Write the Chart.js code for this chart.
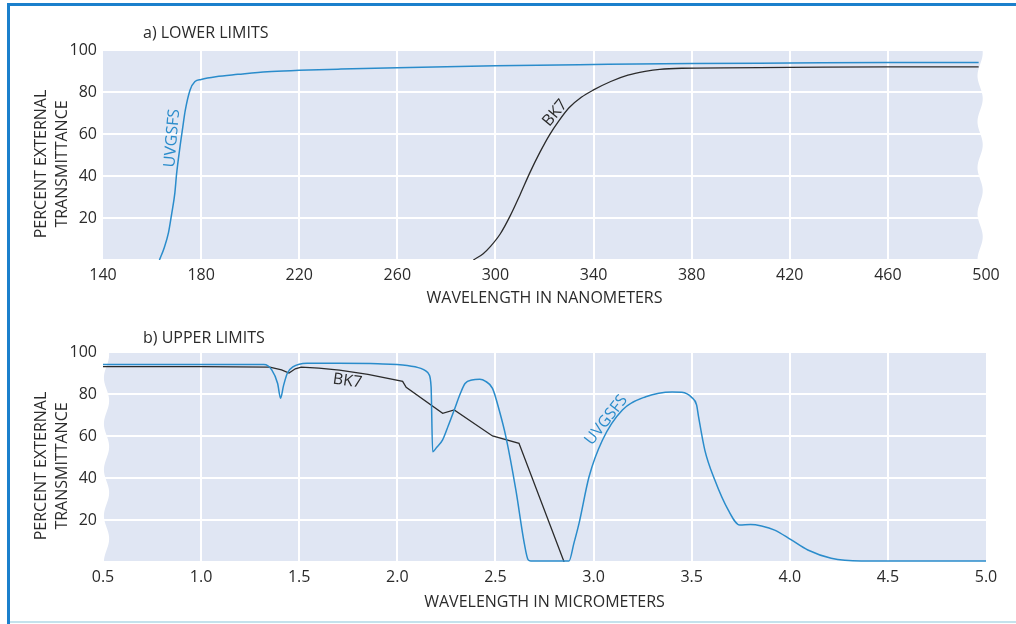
<!DOCTYPE html>
<html>
<head>
<meta charset="utf-8">
<script src="https://cdn.jsdelivr.net/npm/chart.js@4.4.1/dist/chart.umd.min.js"></script>
<style>
  html, body { margin: 0; padding: 0; background: #fff; }
  #fig { position: relative; width: 1016px; height: 624px; overflow: hidden; }
  #fig canvas { position: absolute; left: 0; }
  #chartA { top: 0; }
  #chartB { top: 312px; }
  .frame { position: absolute; left: 7px; top: 3px; width: 1030px; height: 660px;
           border-top: 3px solid #1b80cc; border-left: 3px solid #1b80cc; }
  .base { position: absolute; left: 10px; right: 0; top: 621px; height: 2px; background: #c4e2ec; }
</style>
</head>
<body>
<div id="fig">
  <canvas id="chartA" width="1016" height="312"></canvas>
  <canvas id="chartB" width="1016" height="312"></canvas>
  <div class="frame"></div>
  <div class="base"></div>
</div>
<script>
// ===========================
// Data
// ===========================

// a) lower limits, wavelength in nm
const uvgsfsWlA = [163, 165, 166.7, 168, 169.3, 170, 171.4, 172.5, 173.5, 175.5, 177.5, 180, 186, 195, 207, 220, 237, 260, 300, 340, 380, 420, 460, 497];
const uvgsfsTA  = [0, 6, 13, 22, 32, 41, 54, 63, 71, 81, 85, 86, 87.3, 88.4, 89.7, 90.3, 90.9, 91.6, 92.5, 93.1, 93.6, 93.8, 94, 94];
const bk7WlA = [291, 295, 298, 302, 306, 310, 314, 318, 322, 326, 330, 335, 340, 347, 354, 361, 367, 376, 420, 460, 497];
const bk7TA  = [0, 3, 6.5, 12.5, 21, 31, 41.5, 51, 59.5, 66.5, 72.5, 77.5, 81, 85, 88, 89.8, 90.8, 91.3, 91.7, 92, 92];

// b) upper limits, wavelength in micrometers
const uvgsfsWlB = [0.5, 1.0, 1.32, 1.36, 1.39, 1.405, 1.42, 1.44, 1.47, 1.5, 1.54, 1.7, 1.9, 2.05, 2.12, 2.145, 2.16, 2.172, 2.18,
                   2.2, 2.23, 2.26, 2.29, 2.32, 2.345, 2.38, 2.42, 2.45, 2.485, 2.52, 2.553, 2.604, 2.647, 2.667, 2.68, 2.875,
                   2.9, 2.926, 2.977, 3.045, 3.147, 3.266, 3.4, 3.45, 3.5, 3.525, 3.535, 3.567, 3.618, 3.686, 3.745, 3.8,
                   3.856, 3.923, 4.008, 4.092, 4.211, 4.364, 5.0];
const uvgsfsTB  = [94, 94, 94, 91.5, 85, 78, 84, 90, 93, 94.2, 94.6, 94.6, 94.4, 93.6, 92.2, 91, 89.5, 83.5, 52.5,
                   54.5, 58, 65, 72.4, 80, 85, 86.7, 87, 86, 82.7, 72, 59.7, 34.3, 8.9, 1, 0.5, 0.5,
                   9, 18.4, 40.6, 58, 72.4, 78.7, 81, 80.8, 78.4, 74.8, 69.2, 53.3, 39, 24.8, 17.6, 17.8,
                   17.1, 15.2, 10.5, 5.7, 1.8, 0.5, 0.5];
const bk7WlB = [0.5, 1.0, 1.35, 1.41, 1.448, 1.48, 1.51, 1.6, 1.705, 1.85, 2.027, 2.045, 2.231, 2.29, 2.485, 2.62, 2.85];
const bk7TB  = [93, 93, 92.8, 91.5, 90, 92, 92.8, 92.3, 91.4, 89.3, 86, 83.2, 70.8, 72.4, 60, 56.5, 0];

// tick labels
const yTicks  = [0, 20, 40, 60, 80, 100];
const xTicksA = [140, 180, 220, 260, 300, 340, 380, 420, 460, 500];
const xTicksB = [0.5, 1.0, 1.5, 2.0, 2.5, 3.0, 3.5, 4.0, 4.5, 5.0];

// ===========================
// Styling
// ===========================
const BLUE = '#2a8ccb';
const INK = '#2b2b2b';
const PANEL = '#e0e6f3';
const FONT = '"Open Sans", "Noto Sans", sans-serif';
const FS = 16;

const toPoints = (xs, ys) => xs.map((x, i) => ({ x, y: ys[i] }));

// Light panel behind the grid, with a wavy "break" edge on one side
const panelBg = {
  id: 'panelBg',
  beforeDraw(chart, args, opts) {
    const { ctx, chartArea: a, scales } = chart;
    const amp = 2.6, period = 46;
    const ex = scales.x.getPixelForValue(opts.edge);
    ctx.save();
    ctx.fillStyle = PANEL;
    ctx.beginPath();
    if (opts.side === 'right') {
      ctx.moveTo(a.left, a.top);
      for (let y = a.top; y <= a.bottom; y += 1) {
        ctx.lineTo(ex + amp * Math.sin((y - a.top) / period * 2 * Math.PI + 1.2), y);
      }
      ctx.lineTo(a.left, a.bottom);
    } else {
      ctx.moveTo(a.right, a.top);
      ctx.lineTo(a.right, a.bottom);
      for (let y = a.bottom; y >= a.top; y -= 1) {
        ctx.lineTo(ex + amp * Math.sin((y - a.top) / period * 2 * Math.PI + 1.2), y);
      }
    }
    ctx.closePath();
    ctx.fill();
    ctx.restore();
  }
};

// Panel heading, two-line y title and curve labels
const panelText = {
  id: 'panelText',
  afterDraw(chart, args, opts) {
    const { ctx, chartArea: a, scales } = chart;
    ctx.save();
    ctx.font = FS + 'px ' + FONT;
    ctx.fillStyle = INK;
    ctx.textBaseline = 'middle';
    ctx.textAlign = 'left';
    ctx.fillText(opts.heading, a.left + 40, a.top - opts.headingGap);

    // y axis title
    const cy = (a.top + a.bottom) / 2 + 9;
    ctx.save();
    ctx.translate(41, cy);
    ctx.rotate(-Math.PI / 2);
    ctx.textAlign = 'center';
    ctx.fillText('PERCENT EXTERNAL', 0, 0);
    ctx.fillText('TRANSMITTANCE', 0, 21);
    ctx.restore();

    // labels beside the curves
    opts.labels.forEach(l => {
      ctx.save();
      ctx.translate(scales.x.getPixelForValue(l.x), scales.y.getPixelForValue(l.y));
      ctx.rotate(l.angle * Math.PI / 180);
      ctx.fillStyle = l.color;
      ctx.textAlign = 'center';
      ctx.fillText(l.text, 0, 0);
      ctx.restore();
    });
    ctx.restore();
  }
};

function makeChart(id, cfg) {
  return new Chart(document.getElementById(id), {
    type: 'line',
    data: {
      datasets: [
        {
          label: 'UVGSFS', data: cfg.uv, borderColor: BLUE, borderWidth: 1.5,
          pointRadius: 0, cubicInterpolationMode: 'monotone', fill: false
        },
        {
          label: 'BK7', data: cfg.bk, borderColor: INK, borderWidth: 1.3,
          pointRadius: 0, tension: cfg.bkTension, cubicInterpolationMode: cfg.bkTension ? 'monotone' : 'default', fill: false
        }
      ]
    },
    options: {
      responsive: false,
      animation: false,
      layout: { padding: { left: 0, right: 30, top: cfg.top, bottom: 0 } },
      scales: {
        x: {
          type: 'linear', min: cfg.xTicks[0], max: cfg.xTicks[cfg.xTicks.length - 1],
          afterBuildTicks: s => { s.ticks = cfg.xTicks.map(v => ({ value: v })); },
          afterFit: s => { s.height = cfg.xHeight; },
          border: { display: false },
          grid: {
            drawTicks: false, lineWidth: 2,
            color: c => (c.index === 0 || c.index === cfg.xTicks.length - 1) ? 'rgba(0,0,0,0)' : '#ffffff'
          },
          ticks: {
            padding: 6, color: INK, font: { family: FONT, size: FS },
            callback: v => cfg.fmt(v)
          },
          title: {
            display: true, text: cfg.xTitle, color: INK,
            font: { family: FONT, size: FS }, padding: { top: 4, bottom: cfg.titleBottom }
          }
        },
        y: {
          min: 0, max: 100,
          afterBuildTicks: s => { s.ticks = yTicks.map(v => ({ value: v })); },
          afterFit: s => { s.width = 103; },
          border: { display: false },
          grid: { drawTicks: false, lineWidth: 2, color: '#ffffff' },
          ticks: {
            padding: 6, color: INK, font: { family: FONT, size: FS },
            callback: v => (v === 0 ? '' : v)
          }
        }
      },
      plugins: {
        legend: { display: false },
        tooltip: { enabled: false },
        panelBg: cfg.bg,
        panelText: { heading: cfg.heading, headingGap: cfg.headingGap, labels: cfg.labels }
      }
    },
    plugins: [panelBg, panelText]
  });
}

makeChart('chartA', {
  uv: toPoints(uvgsfsWlA, uvgsfsTA),
  bk: toPoints(bk7WlA, bk7TA),
  bkTension: 0.4,
  xTicks: xTicksA,
  fmt: v => String(v),
  xTitle: 'WAVELENGTH IN NANOMETERS',
  top: 50, xHeight: 52, titleBottom: 4,
  heading: 'a) LOWER LIMITS', headingGap: 17,
  bg: { side: 'right', edge: 497.6 },
  labels: [
    { text: 'UVGSFS', x: 168.2, y: 58, angle: -85, color: BLUE },
    { text: 'BK7', x: 324.3, y: 70, angle: -50, color: INK }
  ]
});

makeChart('chartB', {
  uv: toPoints(uvgsfsWlB, uvgsfsTB),
  bk: toPoints(bk7WlB, bk7TB),
  bkTension: 0,
  xTicks: xTicksB,
  fmt: v => Number(v).toFixed(1),
  xTitle: 'WAVELENGTH IN MICROMETERS',
  top: 40, xHeight: 62, titleBottom: 12,
  heading: 'b) UPPER LIMITS', headingGap: 14,
  bg: { side: 'left', edge: 0.518 },
  labels: [
    { text: 'BK7', x: 1.746, y: 86.2, angle: 8, color: INK },
    { text: 'UVGSFS', x: 3.065, y: 67.6, angle: -52, color: BLUE }
  ]
});
</script>
</body>
</html>
